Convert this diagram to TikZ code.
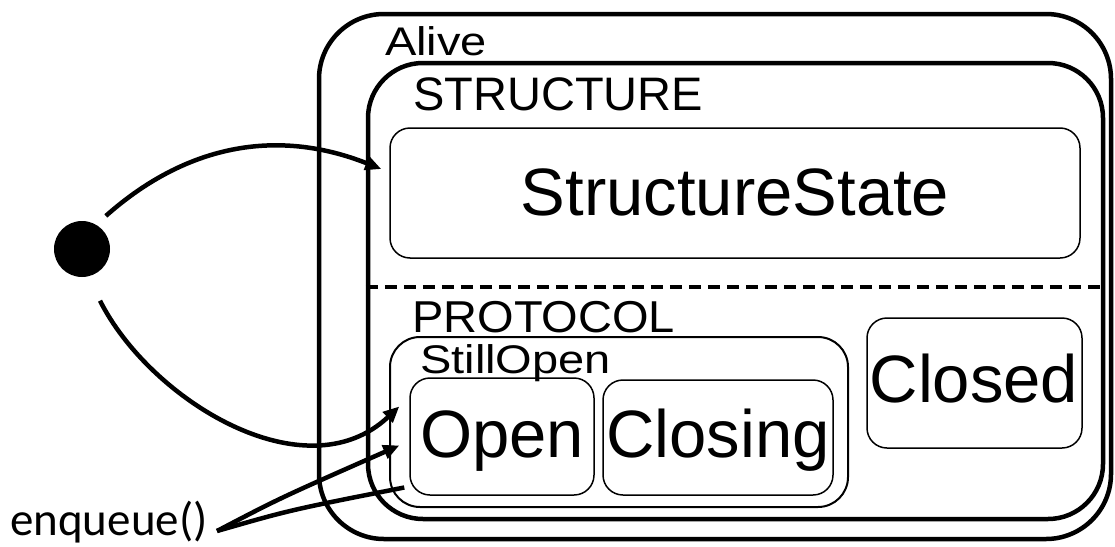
\documentclass[tikz,border=0pt]{standalone}
\usepackage{fontspec}
\setmainfont{Liberation Sans}
\newfontfamily\carl{Carlito}
\usetikzlibrary{arrows.meta,calc}
\begin{document}
\begin{tikzpicture}[x=1pt,y=-1pt,
  thickbox/.style={draw,line width=4.5pt,rounded corners=#1},
  thinbox/.style={draw,line width=1.5pt,rounded corners=#1},
  conn/.style={line width=4.5pt,-{Triangle[length=16pt,width=14pt]}},
  plain/.style={line width=4.5pt},
  lbl/.style={anchor=base west,inner sep=0pt},
  big/.style={anchor=base,inner sep=0pt,font=\fontsize{67}{67}\selectfont}]
\useasboundingbox[fill=white] (0,0) rectangle (1115,546);
% boxes
\node[thickbox=65pt,minimum width=792pt,minimum height=525pt] (alive) at (715,276.5) {};
\node[thickbox=55pt,minimum width=735pt,minimum height=456pt] (struct) at (735.5,291) {};
\node[thinbox=20pt,minimum width=690pt,minimum height=130pt] (ss) at (735,193) {};
\node[thinbox=30pt,line width=2pt,minimum width=458pt,minimum height=170pt] (so) at (619,422) {};
\node[thinbox=20pt,minimum width=184pt,minimum height=117pt] (open) at (502,436.5) {};
\node[thinbox=20pt,minimum width=230pt,minimum height=115pt] (closing) at (718,437.5) {};
\node[thinbox=20pt,minimum width=215pt,minimum height=130pt] (closed) at (974.5,383) {};
% dashed separator
\draw[line width=4.5pt,dash pattern=on 12pt off 7pt] (struct.west |- 0,287) -- (struct.east |- 0,287);
% labels
\node[lbl,font=\fontsize{47}{47}\selectfont] (lalive) at (385,55) {\scalebox{1}[0.85]{Alive}};
\node[lbl,font=\fontsize{47}{47}\selectfont] (lstruct) at (413,110) {STRUCTURE};
\node[lbl,font=\fontsize{47}{47}\selectfont] (lproto) at (412,332) {\scalebox{1}[0.95]{PROTOCOL}};
\node[lbl,font=\fontsize{47}{47}\selectfont] (lso) at (420,373) {\scalebox{1}[0.85]{StillOpen}};
\node[big] (tss) at (735,215) {StructureState};
\node[big] (topen) at (502,457) {Open};
\node[big] (tclosing) at (718,457) {Closing};
\node[big] (tclosed) at (974,402) {Closed};
% initial state
\node[circle,fill,minimum size=56pt,inner sep=0pt] (init) at (82,249) {};
\draw[conn,shorten <=13pt] (init.60) .. controls (180,150) and (270,125) .. ($(ss.west)+(-8,-24)$);
\draw[conn,shorten <=27pt] (init.-78) .. controls (150,400) and (305,495) .. ($(open.west)+(-10,-30)$);
% enqueue
\node[anchor=base west,inner sep=0pt,font=\carl\fontsize{47}{47}\selectfont] (eqlabel) at (10,535) {enqueue()};
\coordinate (eq) at (217,531);
\draw[conn,line join=miter] (eq) .. controls (280,498) .. ($(open.west)+(-10,9)$);
\draw[plain] (eq) .. controls (290,510) .. ($(open.west)+(-5,51)$);
\end{tikzpicture}
\end{document}
